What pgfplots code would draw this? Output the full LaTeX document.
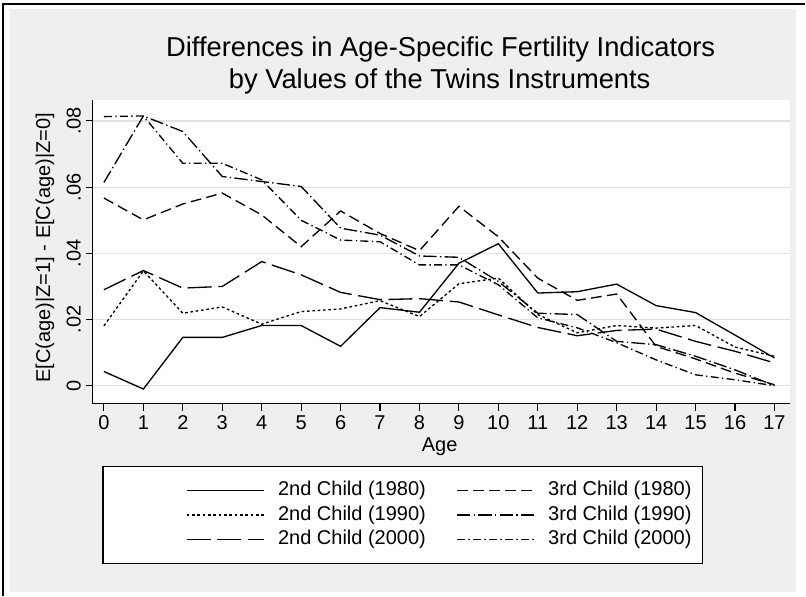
\documentclass[border=0pt]{standalone}
\usepackage{pgfplots}
\pgfplotsset{compat=1.18}
\usepackage{fontspec}
\setmainfont{Liberation Sans}
\definecolor{bggray}{RGB}{239,239,239}
\definecolor{gridgray}{RGB}{226,226,226}
\newcommand{\fs}{\fontsize{15}{18}\selectfont}
\begin{document}
\begin{tikzpicture}
\fill[white] (0,0) rectangle (604.5pt,447pt);
\fill[bggray] (7.5pt,3pt) rectangle (597.75pt,440.25pt);
\draw[line width=0.9pt] (2.25pt,0pt) -- (2.25pt,444pt) -- (604.5pt,444pt);
\filldraw[fill=white, draw=black, line width=0.9pt] (77.25pt,24pt) rectangle (527.25pt,96.75pt);
\begin{axis}[
  at={(69.75pt,144pt)}, anchor=south west, scale only axis,
  width=523.5pt, height=228pt,
  xmin=-0.279, xmax=17.405, ymin=-0.00543, ymax=0.08634,
  axis background/.style={fill=white},
  axis x line*=bottom, axis y line*=left,
  axis line style={-, line width=0.8pt, black},
  tick align=outside, major tick length=5.5pt,
  tick style={line width=0.8pt, black},
  xtick={0,...,17},
  ytick={0,0.02,0.04,0.06,0.08},
  yticklabels={0,.02,.04,.06,.08},
  scaled y ticks=false,
  /pgf/number format/assume math mode=true,
  tick label style={font=\fs},
  yticklabel style={rotate=90, anchor=south},
  ymajorgrids, grid style={gridgray, line width=0.9pt},
  no markers,
  every axis plot/.append style={line width=1pt, black},
  legend columns=2, legend cell align=left,
  legend image code/.code={\draw[#1] (0pt,0pt) -- (57.75pt,0pt);},
  legend style={draw=none, fill=none, at={(axis description cs:0.1332,-0.2444)},
    anchor=north west, inner sep=0pt, row sep=0pt,
    nodes={inner xsep=0pt, inner ysep=1.2pt, text height=12pt, text depth=4pt, font=\fs},
    /tikz/every odd column/.append style={column sep=10.3pt},
    /tikz/every even column/.append style={column sep=22.8pt}},
]
\addplot[solid] coordinates {(0,0.0043)(1,-0.0010)(2,0.0146)(3,0.0146)(4,0.0182)(5,0.0182)(6,0.0119)(7,0.0236)(8,0.0222)(9,0.0370)(10,0.0429)(11,0.0280)(12,0.0284)(13,0.0307)(14,0.0242)(15,0.0221)(16,0.0153)(17,0.0084)};
\addlegendentry{2nd Child (1980)}
\addplot[dash pattern=on 8pt off 4pt] coordinates {(0,0.0567)(1,0.0501)(2,0.0549)(3,0.0582)(4,0.0516)(5,0.0420)(6,0.0528)(7,0.0460)(8,0.0408)(9,0.0542)(10,0.0450)(11,0.0325)(12,0.0258)(13,0.0277)(14,0.0119)(15,0.0081)(16,0.0038)(17,0.0003)};
\addlegendentry{3rd Child (1980)}
\addplot[dash pattern=on 2pt off 2pt] coordinates {(0,0.0181)(1,0.0347)(2,0.0219)(3,0.0238)(4,0.0186)(5,0.0224)(6,0.0232)(7,0.0257)(8,0.0209)(9,0.0308)(10,0.0325)(11,0.0215)(12,0.0160)(13,0.0182)(14,0.0174)(15,0.0182)(16,0.0117)(17,0.0089)};
\addlegendentry{2nd Child (1990)}
\addplot[dash pattern=on 10pt off 2.5pt on 1pt off 2.5pt] coordinates {(0,0.0614)(1,0.0815)(2,0.0768)(3,0.0632)(4,0.0617)(5,0.0602)(6,0.0476)(7,0.0455)(8,0.0392)(9,0.0388)(10,0.0315)(11,0.0219)(12,0.0215)(13,0.0134)(14,0.0124)(15,0.0089)(16,0.0048)(17,0.0000)};
\addlegendentry{3rd Child (1990)}
\addplot[dash pattern=on 18pt off 5pt] coordinates {(0,0.0290)(1,0.0348)(2,0.0295)(3,0.0300)(4,0.0375)(5,0.0335)(6,0.0282)(7,0.0260)(8,0.0263)(9,0.0253)(10,0.0214)(11,0.0176)(12,0.0151)(13,0.0167)(14,0.0171)(15,0.0134)(16,0.0104)(17,0.0069)};
\addlegendentry{2nd Child (2000)}
\addplot[dash pattern=on 6pt off 2.5pt on 1pt off 2.5pt] coordinates {(0,0.0813)(1,0.0815)(2,0.0672)(3,0.0672)(4,0.0622)(5,0.0500)(6,0.0440)(7,0.0435)(8,0.0365)(9,0.0365)(10,0.0305)(11,0.0205)(12,0.0175)(13,0.0130)(14,0.0078)(15,0.0033)(16,0.0018)(17,0.0000)};
\addlegendentry{3rd Child (2000)}
\end{axis}
\node[anchor=base, font=\fontsize{20.5}{24}\selectfont] at (330.75pt,404.5pt) {Differences in Age-Specific Fertility Indicators};
\node[anchor=base, font=\fontsize{20.5}{24}\selectfont] at (330pt,380.8pt) {by Values of the Twins Instruments};
\node[rotate=90, anchor=center, font=\fs] at (33.75pt,261pt) {E[C(age)|Z=1] - E[C(age)|Z=0]};
\node[anchor=center, font=\fs] at (330pt,111.75pt) {Age};
\end{tikzpicture}
\end{document}
